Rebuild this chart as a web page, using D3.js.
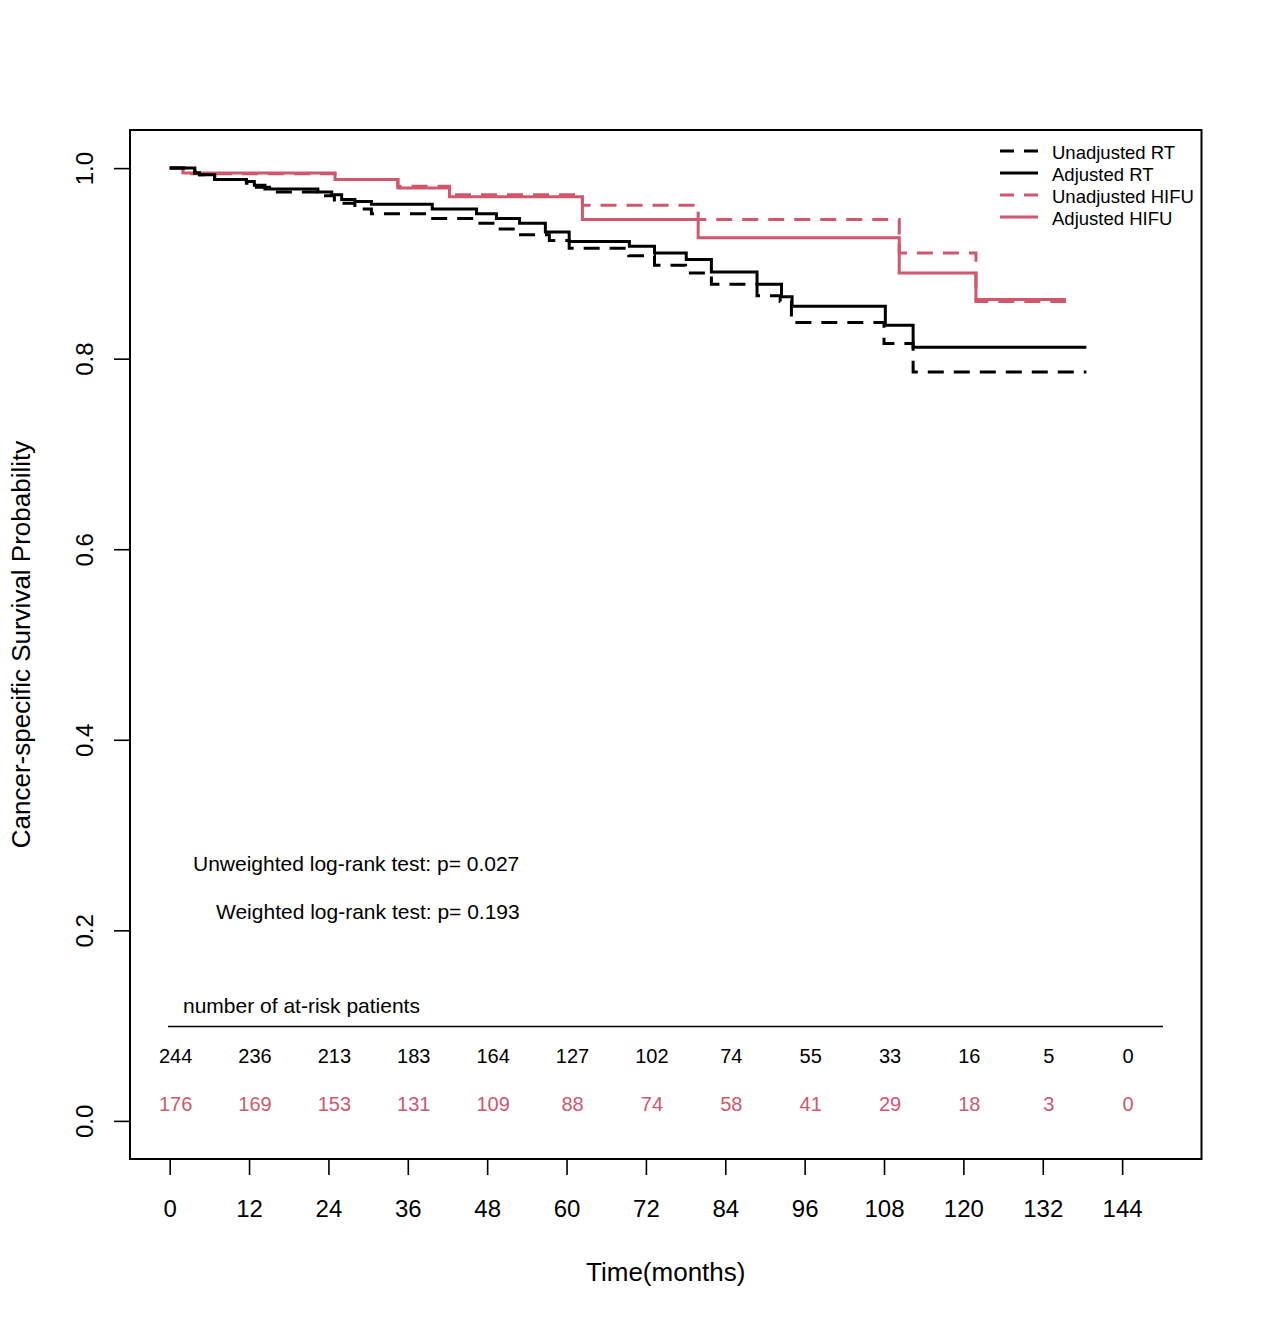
<!DOCTYPE html>
<html lang="en">
<head>
<meta charset="utf-8">
<title>Cancer-specific survival</title>
<script src="https://d3js.org/d3.v7.min.js"></script>
<style>
  body { margin: 0; background: #fff; }
  svg { font-family: "Liberation Sans", Arial, sans-serif; }
</style>
</head>
<body>
<div id="vis"></div>
<script>
// step curves (time in months, survival probability)
const rtUnadjTime = [0, 3.8, 4.5, 6.8, 11.6, 13.1, 15.1, 22.4, 24.9, 28.0, 30.5, 39.3, 46.2, 49.3, 52.6, 57.4, 60.4, 69.4, 73.3, 78.0, 81.9, 88.8, 92.3, 94.0, 108.0, 112.4];
const rtUnadjSurv = [1.0, 0.995, 0.993, 0.988, 0.984, 0.980, 0.975, 0.971, 0.963, 0.957, 0.952, 0.947, 0.942, 0.936, 0.930, 0.924, 0.916, 0.908, 0.898, 0.890, 0.878, 0.866, 0.860, 0.838, 0.816, 0.786];
const rtAdjTime = [0, 3.8, 4.5, 6.8, 11.6, 12.8, 14.4, 22.4, 24.5, 26.0, 28.0, 30.5, 39.7, 46.4, 49.4, 52.9, 56.8, 60.4, 69.5, 73.3, 78.1, 81.9, 88.8, 92.5, 94.1, 108.2, 112.4];
const rtAdjSurv = [1.0, 0.995, 0.993, 0.988, 0.986, 0.982, 0.978, 0.975, 0.972, 0.967, 0.965, 0.962, 0.957, 0.952, 0.947, 0.942, 0.933, 0.923, 0.918, 0.911, 0.904, 0.891, 0.878, 0.865, 0.855, 0.835, 0.812];
const rtEnd = 138.6;

const hifuUnadjTime = [0, 2.0, 25.0, 34.5, 42.3, 62.4, 79.9, 110.3, 121.9];
const hifuUnadjSurv = [1.0, 0.994, 0.988, 0.981, 0.972, 0.961, 0.946, 0.911, 0.860];
const hifuAdjTime = [0, 2.0, 25.0, 34.5, 42.3, 62.4, 79.9, 110.3, 121.9];
const hifuAdjSurv = [1.0, 0.995, 0.988, 0.979, 0.970, 0.946, 0.927, 0.890, 0.862];
const hifuEnd = 135.5;

// at-risk table
const riskTimes = [0, 12, 24, 36, 48, 60, 72, 84, 96, 108, 120, 132, 144];
const riskRT = [244, 236, 213, 183, 164, 127, 102, 74, 55, 33, 16, 5, 0];
const riskHIFU = [176, 169, 153, 131, 109, 88, 74, 58, 41, 29, 18, 3, 0];

const xTicks = [0, 12, 24, 36, 48, 60, 72, 84, 96, 108, 120, 132, 144];
const yTicks = [0, 0.2, 0.4, 0.6, 0.8, 1.0];

const legendLabels = ["Unadjusted RT", "Adjusted RT", "Unadjusted HIFU", "Adjusted HIFU"];

const pink = "#d0576c";
const width = 1269, height = 1322;
const boxLeft = 130, boxRight = 1201.5, boxTop = 130, boxBottom = 1159;

const svg = d3.select("#vis").append("svg")
    .attr("width", width)
    .attr("height", height);

const x = d3.scaleLinear().domain([-6, 156]).range([boxLeft, boxRight]);
const y = d3.scaleLinear().domain([-0.04, 1.04]).range([boxBottom, boxTop]);

// axes
svg.append("g")
    .attr("transform", `translate(0,${boxBottom})`)
    .call(d3.axisBottom(x).tickValues(xTicks).tickSize(16).tickPadding(25).tickFormat(d3.format("d")))
    .call(g => g.select(".domain").remove())
    .call(g => g.selectAll("line").attr("stroke-width", 1.6))
    .call(g => g.selectAll("text").attr("font-size", 24).attr("fill", "#000")
        .attr("font-family", "Liberation Sans, Arial, sans-serif"));

svg.append("g")
    .attr("transform", `translate(${boxLeft},0)`)
    .call(d3.axisLeft(y).tickValues(yTicks).tickSize(16).tickFormat(d3.format(".1f")))
    .call(g => g.select(".domain").remove())
    .call(g => g.selectAll("line").attr("stroke-width", 1.6))
    .call(g => g.selectAll("text")
        .attr("x", 0).attr("y", 0).attr("dy", 0)
        .attr("transform", "translate(-37,0) rotate(-90)")
        .attr("text-anchor", "middle")
        .attr("font-size", 24).attr("fill", "#000")
        .attr("font-family", "Liberation Sans, Arial, sans-serif"));

// box
svg.append("rect")
    .attr("x", boxLeft).attr("y", boxTop)
    .attr("width", boxRight - boxLeft).attr("height", boxBottom - boxTop)
    .attr("fill", "none").attr("stroke", "#000").attr("stroke-width", 2);

// axis titles
svg.append("text")
    .attr("x", (boxLeft + boxRight) / 2).attr("y", 1281)
    .attr("text-anchor", "middle").attr("font-size", 26)
    .text("Time(months)");

svg.append("text")
    .attr("transform", `translate(30,${(boxTop + boxBottom) / 2}) rotate(-90)`)
    .attr("text-anchor", "middle").attr("font-size", 26)
    .text("Cancer-specific Survival Probability");

// survival curves
const line = d3.line()
    .x(d => x(d[0]))
    .y(d => y(d[1]))
    .curve(d3.curveStepAfter);

function steps(times, surv, end) {
    const pts = times.map((t, i) => [t, surv[i]]);
    pts.push([end, surv[surv.length - 1]]);
    return pts;
}

const curves = [
    { pts: steps(hifuUnadjTime, hifuUnadjSurv, hifuEnd), color: pink, dash: "16,10" },
    { pts: steps(hifuAdjTime, hifuAdjSurv, hifuEnd), color: pink, dash: null },
    { pts: steps(rtUnadjTime, rtUnadjSurv, rtEnd), color: "#000", dash: "16,10" },
    { pts: steps(rtAdjTime, rtAdjSurv, rtEnd), color: "#000", dash: null }
];

svg.append("g").selectAll("path")
    .data(curves)
    .enter()
    .append("path")
    .attr("d", d => line(d.pts))
    .attr("fill", "none")
    .attr("stroke", d => d.color)
    .attr("stroke-width", 3)
    .attr("stroke-dasharray", d => d.dash);

// legend
const legendStyle = [
    { color: "#000", dash: "14,10" },
    { color: "#000", dash: null },
    { color: pink, dash: "14,10" },
    { color: pink, dash: null }
];
const legend = svg.append("g");
legendLabels.forEach((lab, i) => {
    const ly = 151 + i * 22;
    legend.append("line")
        .attr("x1", 1000).attr("x2", 1038)
        .attr("y1", ly).attr("y2", ly)
        .attr("stroke", legendStyle[i].color)
        .attr("stroke-width", 3)
        .attr("stroke-dasharray", legendStyle[i].dash);
    legend.append("text")
        .attr("x", 1052).attr("y", ly + 8)
        .attr("font-size", 18.5)
        .text(lab);
});

// log-rank text
svg.append("text").attr("x", 193).attr("y", 871).attr("font-size", 21)
    .text("Unweighted log-rank test: p= 0.027");
svg.append("text").attr("x", 216).attr("y", 919).attr("font-size", 21)
    .text("Weighted log-rank test: p= 0.193");

// at-risk table
svg.append("text").attr("x", 183).attr("y", 1013).attr("font-size", 21)
    .text("number of at-risk patients");
svg.append("line")
    .attr("x1", 168).attr("x2", 1163)
    .attr("y1", 1026.5).attr("y2", 1026.5)
    .attr("stroke", "#000").attr("stroke-width", 1.3);

const riskOffset = 6;
svg.append("g").selectAll("text")
    .data(riskTimes)
    .enter()
    .append("text")
    .attr("x", d => x(d) + riskOffset)
    .attr("y", 1063)
    .attr("text-anchor", "middle")
    .attr("font-size", 20)
    .text((d, i) => riskRT[i]);

svg.append("g").selectAll("text")
    .data(riskTimes)
    .enter()
    .append("text")
    .attr("x", d => x(d) + riskOffset)
    .attr("y", 1111)
    .attr("text-anchor", "middle")
    .attr("font-size", 20)
    .attr("fill", pink)
    .text((d, i) => riskHIFU[i]);
</script>
</body>
</html>
